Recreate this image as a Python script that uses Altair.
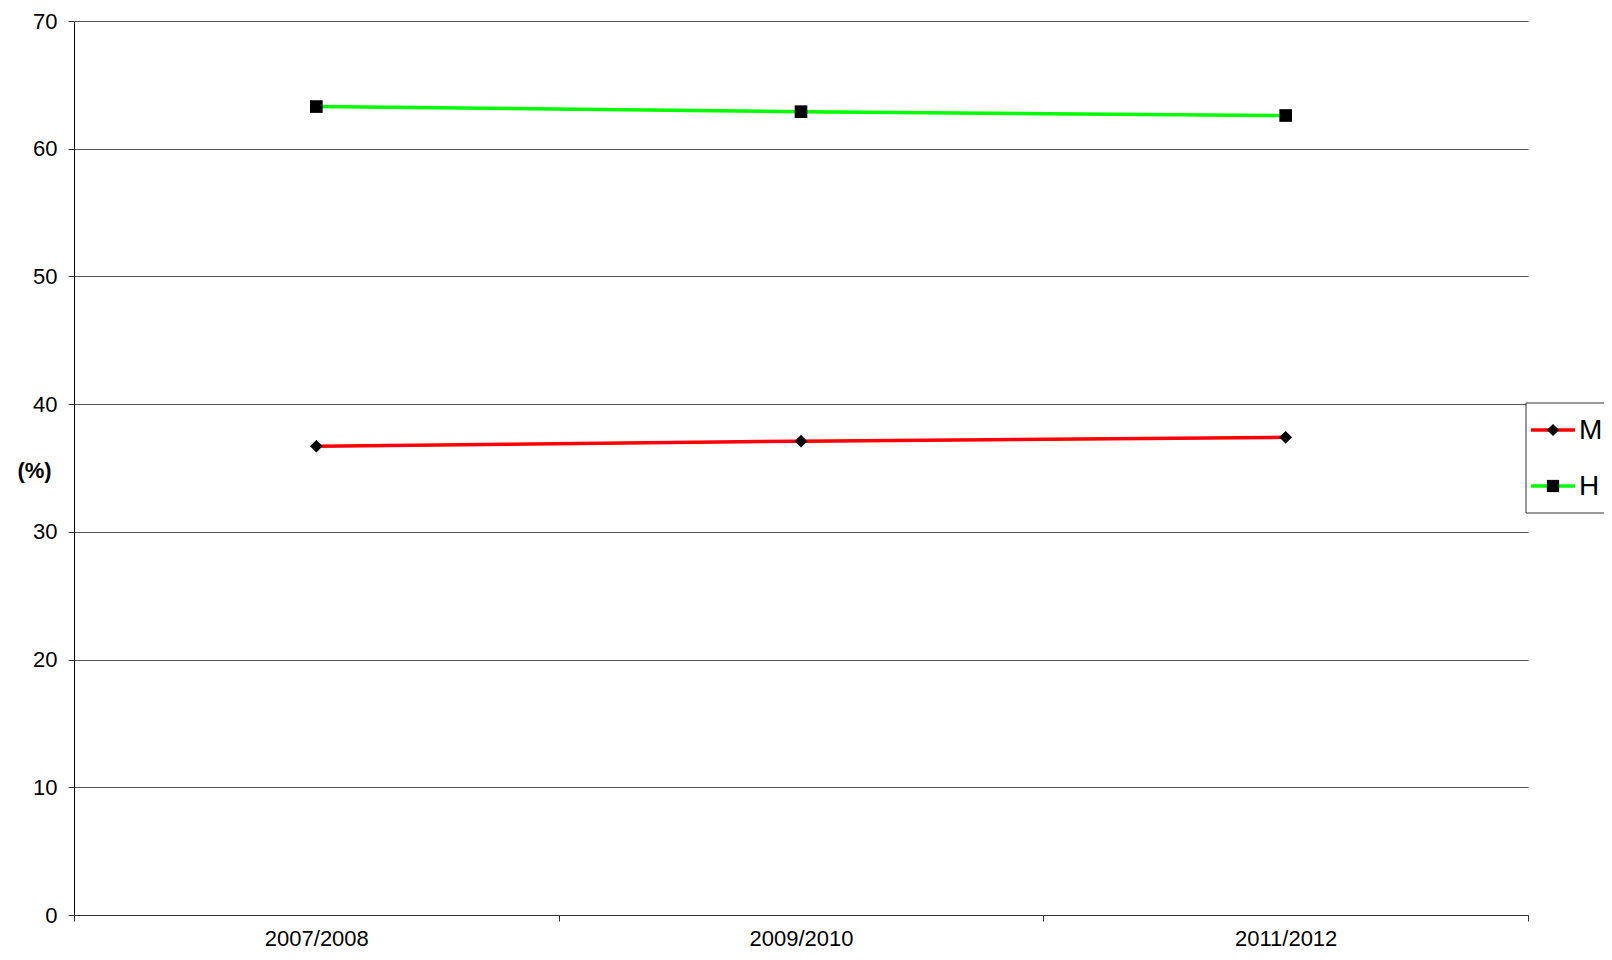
import altair as alt
import pandas as pd

periods = ["2007/2008", "2009/2010", "2011/2012"]
series_names = ["M", "H"]
values_m = [36.7, 37.1, 37.4]
values_h = [63.3, 62.9, 62.6]
line_colors = ["#ff0000", "#00ff00"]
marker_shapes = ["diamond", "square"]
y_ticks = [0, 10, 20, 30, 40, 50, 60, 70]

rows = []
for p, m, h in zip(periods, values_m, values_h):
    rows.append({"period": p, "series": "M", "value": m})
    rows.append({"period": p, "series": "H", "value": h})
df = pd.DataFrame(rows)

FONT = "Liberation Sans"
W, H = 1454, 894

x_enc = alt.X(
    "period:N",
    sort=periods,
    scale=alt.Scale(type="band", paddingInner=0, paddingOuter=0),
    bandPosition=0.5,
    axis=alt.Axis(
        title=None, tickBand="extent", grid=False, labelAngle=0,
        labelFont=FONT, labelFontSize=22, labelColor="black",
        labelPadding=7, tickSize=6, tickColor="#333", domainColor="#333",
    ),
)
y_enc = alt.Y(
    "value:Q",
    scale=alt.Scale(domain=[0, 70], nice=False, zero=True),
    axis=alt.Axis(
        values=y_ticks, title="(%)", titleAngle=0, titleX=-40, titleY=449,
        titleAlign="center", titleBaseline="middle", titleFont=FONT,
        titleFontSize=22, titleFontWeight="bold", titleColor="black",
        labelFont=FONT, labelFontSize=22, labelColor="black", labelPadding=11,
        tickSize=6, tickColor="#333", domainColor="black",
        grid=True, gridColor="#555", gridWidth=1,
    ),
)

lines = alt.Chart(df).mark_line(strokeWidth=3.5).encode(
    x=x_enc,
    y=y_enc,
    color=alt.Color("series:N", scale=alt.Scale(domain=series_names, range=line_colors), legend=None),
    detail="series:N",
)
points = alt.Chart(df).mark_point(filled=True, size=160, color="black", opacity=1).encode(
    x=x_enc,
    y=y_enc,
    shape=alt.Shape("series:N", scale=alt.Scale(domain=series_names, range=marker_shapes), legend=None),
)

# manual legend at the right edge
box = alt.Chart(pd.DataFrame({"a": [0]})).mark_rect(
    fill="white", stroke="#333", strokeWidth=1
).encode(x=alt.value(1452), x2=alt.value(1600), y=alt.value(382), y2=alt.value(492))

legend_layers = [box]
for i, (name, col, shp) in enumerate(zip(series_names, line_colors, marker_shapes)):
    ly = 409 + 56 * i
    d = pd.DataFrame({"series": [name]})
    legend_layers.append(
        alt.Chart(d).mark_rule(color=col, strokeWidth=3.5).encode(
            x=alt.value(1457), x2=alt.value(1501), y=alt.value(ly)
        )
    )
    legend_layers.append(
        alt.Chart(d).mark_point(filled=True, size=150, color="black", opacity=1, shape=shp).encode(
            x=alt.value(1479), y=alt.value(ly)
        )
    )
    legend_layers.append(
        alt.Chart(d).mark_text(align="left", baseline="middle", font=FONT, fontSize=28, color="black").encode(
            x=alt.value(1505), y=alt.value(ly + 1), text="series:N"
        )
    )

chart = alt.layer(lines, points, *legend_layers).properties(
    width=W, height=H,
    background="white",
    autosize=alt.AutoSizeParams(type="none"),
    padding={"left": 66, "top": 13, "right": 76, "bottom": 34},
).configure_view(stroke=None)

chart.save("out.html", embed_options={"renderer": "svg", "actions": False})
